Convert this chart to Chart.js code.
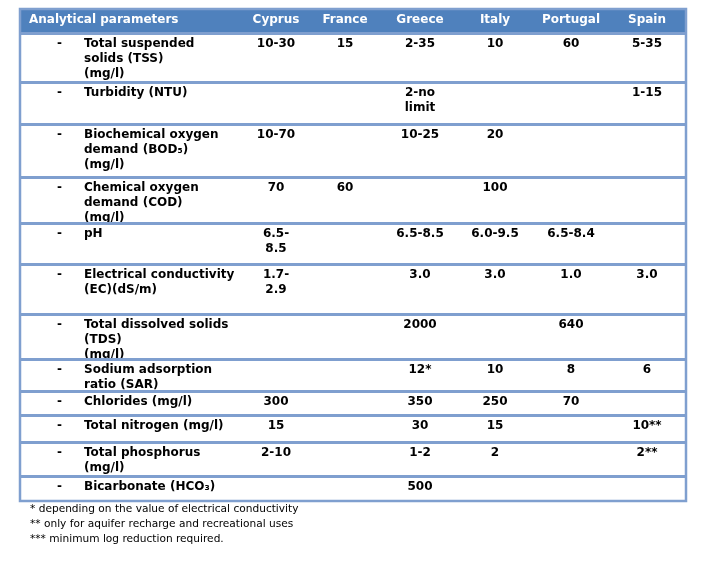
<!DOCTYPE html>
<html>
<head>
<meta charset="utf-8">
<script src="https://cdn.jsdelivr.net/npm/chart.js@4/dist/chart.umd.min.js"></script>
<style>
  html, body { margin: 0; padding: 0; background: #fff; }
  canvas { display: block; }
</style>
</head>
<body>
<canvas id="table" width="702" height="571"></canvas>
<script>
// table content
const headerTitle = 'Analytical parameters'
const countries = ['Cyprus', 'France', 'Greece', 'Italy', 'Portugal', 'Spain']
const parameters = [
  ['Total suspended', 'solids (TSS)', '(mg/l)'],
  ['Turbidity (NTU)'],
  ['Biochemical oxygen', 'demand (BOD\u2085)', '(mg/l)'],
  ['Chemical oxygen', 'demand (COD)', '(mg/l)'],
  ['pH'],
  ['Electrical conductivity', '(EC)(dS/m)'],
  ['Total dissolved solids', '(TDS)', '(mg/l)'],
  ['Sodium adsorption', 'ratio (SAR)'],
  ['Chlorides (mg/l)'],
  ['Total nitrogen (mg/l)'],
  ['Total phosphorus', '(mg/l)'],
  ['Bicarbonate (HCO\u2083)']
]
const cyprus   = ['10-30', '', '10-70', '70', ['6.5-', '8.5'], ['1.7-', '2.9'], '', '', '300', '15', '2-10', '']
const france   = ['15', '', '', '60', '', '', '', '', '', '', '', '']
const greece   = ['2-35', ['2-no', 'limit'], '10-25', '', '6.5-8.5', '3.0', '2000', '12*', '350', '30', '1-2', '500']
const italy    = ['10', '', '20', '100', '6.0-9.5', '3.0', '', '10', '250', '15', '2', '']
const portugal = ['60', '', '', '', '6.5-8.4', '1.0', '640', '8', '70', '', '', '']
const spain    = ['5-35', '1-15', '', '', '', '3.0', '', '6', '', '10**', '2**', '']
const footnotes = [
  '* depending on the value of electrical conductivity',
  '** only for aquifer recharge and recreational uses',
  '*** minimum log reduction required.'
]

// layout (scale units = px inside the table)
const rowHeights = [24, 49, 42, 53, 46, 41, 50, 45, 32, 24, 27, 34, 25]
const colCenters = [256, 325, 400, 475, 551, 627]
const tableWidth = 666
const lineGap = 15

const columns = [cyprus, france, greece, italy, portugal, spain]
const rowEdges = [0]
for (let h of rowHeights) rowEdges.push(rowEdges[rowEdges.length - 1] + h)

const tablePlugin = {
  id: 'tablePlugin',
  afterDraw(chart) {
    let c = chart.ctx
    let x = chart.scales.x
    let y = chart.scales.y
    let px = v => x.getPixelForValue(v)
    let py = v => y.getPixelForValue(v)
    let bold = 'bold 12px "DejaVu Sans", Verdana, sans-serif'

    c.save()
    // header band
    c.fillStyle = '#4f81bd'
    c.fillRect(px(0), py(0), px(tableWidth) - px(0), py(rowEdges[1]) - py(0))

    // header text
    c.font = bold
    c.fillStyle = '#ffffff'
    c.textBaseline = 'alphabetic'
    c.textAlign = 'left'
    c.fillText(headerTitle, px(9), py(14))
    c.textAlign = 'center'
    countries.forEach((name, i) => c.fillText(name, px(colCenters[i]), py(14)))

    // body text
    c.fillStyle = '#000000'
    parameters.forEach((lines, r) => {
      let top = rowEdges[r + 1]
      c.textAlign = 'left'
      c.fillText('-', px(37), py(top + 14))
      lines.forEach((t, k) => c.fillText(t, px(64), py(top + 14 + k * lineGap)))
      c.textAlign = 'center'
      columns.forEach((col, i) => {
        let v = col[r]
        let vl = Array.isArray(v) ? v : [v]
        vl.forEach((t, k) => c.fillText(t, px(colCenters[i]), py(top + 14 + k * lineGap)))
      })
    })

    // row rules
    c.strokeStyle = '#7f9fcf'
    c.lineWidth = 3
    for (let e of rowEdges.slice(1, -1)) {
      c.beginPath()
      c.moveTo(px(0), py(e) + 0.5)
      c.lineTo(px(tableWidth), py(e) + 0.5)
      c.stroke()
    }
    // outer border
    c.lineWidth = 2.5
    c.strokeRect(px(0), py(0), px(tableWidth) - px(0), py(rowEdges[rowEdges.length - 1]) - py(0))

    // footnotes
    c.font = '10.6px "DejaVu Sans", Verdana, sans-serif'
    c.fillStyle = '#000000'
    c.textAlign = 'left'
    footnotes.forEach((t, k) => c.fillText(t, px(10), py(rowEdges[rowEdges.length - 1] + 11 + k * 15)))
    c.restore()
  }
}

new Chart(document.getElementById('table'), {
  type: 'scatter',
  data: { datasets: [] },
  options: {
    responsive: false,
    devicePixelRatio: 1,
    animation: false,
    layout: { padding: { left: 20, top: 9, right: 16, bottom: 70 } },
    scales: {
      x: { type: 'linear', min: 0, max: tableWidth, display: false },
      y: { type: 'linear', min: 0, max: rowEdges[rowEdges.length - 1], reverse: true, display: false }
    },
    plugins: { legend: { display: false }, tooltip: { enabled: false } }
  },
  plugins: [tablePlugin]
})
</script>
</body>
</html>
